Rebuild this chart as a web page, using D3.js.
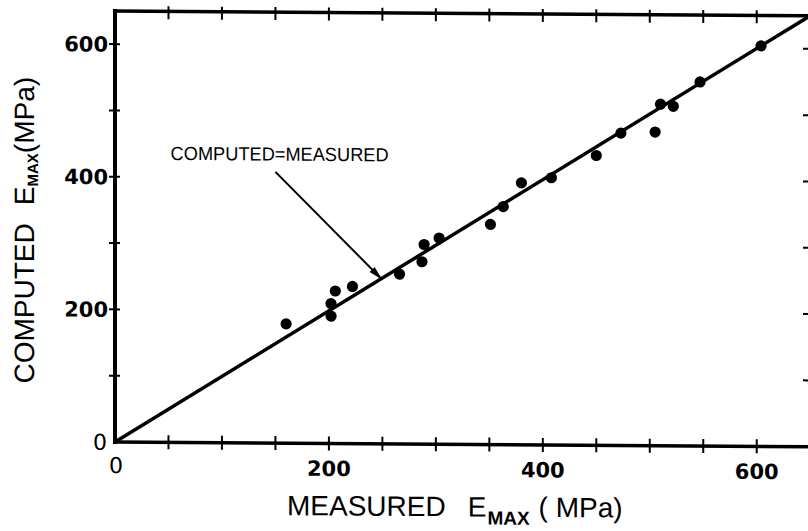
<!DOCTYPE html>
<html>
<head>
<meta charset="utf-8">
<script src="https://cdn.jsdelivr.net/npm/d3@7"></script>
<style>
  html, body { margin: 0; padding: 0; background: #fff; }
  svg { display: block; }
</style>
</head>
<body>
<svg id="chart" width="808" height="531"></svg>
<script>
// Measured vs. computed maximum modulus, E_MAX (MPa)
const measured = [160, 202, 202, 206, 222, 266, 287, 289, 303, 351, 363, 380, 408, 450, 473, 505, 510, 522, 547, 604];
const computed = [180, 192, 211, 230, 237, 256, 275, 301, 311, 332, 359, 395, 403, 437, 471, 473, 515, 512, 549, 604];

// Axis ticks and labels
const xTicks = [50, 100, 150, 200, 250, 300, 350, 400, 450, 500, 550, 600];
const yTicks = [100, 200, 300, 400, 500, 600];
const xLabels = [200, 400, 600];
const yLabels = [200, 400, 600];
const xDomain = [0, 647];
const yDomain = [0, 650];

// Equality line and its annotation (data units)
const equalityLine = [0, 650];
const annotationText = "COMPUTED=MEASURED";
const leaderStart = [150, 409];
const leaderTip = 249;        // point on the equality line
const annotationAnchor = [52, 426];

const svg = d3.select("#chart");

const x = d3.scaleLinear().domain(xDomain).range([115, 807]);
const y = d3.scaleLinear().domain(yDomain).range([442, 11]);

// the whole figure leans slightly, dropping toward the right
const k = 0.0068;
const g = svg.append("g")
  .attr("transform", `matrix(1,${k},0,1,0,${-k * x(0)})`);

const sans = "'Liberation Sans', Arial, sans-serif";
const digits = "'DejaVu Sans', Verdana, sans-serif";

// frame: left, bottom, top
g.append("line").attr("x1", x(0)).attr("x2", x(0)).attr("y1", y(yDomain[1]) - 2).attr("y2", y(0) + 2)
  .attr("stroke", "#000").attr("stroke-width", 4);
g.append("line").attr("x1", x(0)).attr("x2", x(xDomain[1]) + 4).attr("y1", y(0)).attr("y2", y(0))
  .attr("stroke", "#000").attr("stroke-width", 3.5);
g.append("line").attr("x1", x(0) - 2).attr("x2", x(xDomain[1]) + 4).attr("y1", y(yDomain[1])).attr("y2", y(yDomain[1]))
  .attr("stroke", "#000").attr("stroke-width", 3.5);

// crossing ticks on bottom and top
g.append("g").selectAll("line").data(xTicks).join("line")
  .attr("x1", d => x(d)).attr("x2", d => x(d))
  .attr("y1", y(0) - 7).attr("y2", y(0) + 7)
  .attr("stroke", "#000").attr("stroke-width", 2);
g.append("g").selectAll("line").data(xTicks).join("line")
  .attr("x1", d => x(d)).attr("x2", d => x(d))
  .attr("y1", y(yDomain[1]) - 5).attr("y2", y(yDomain[1]) + 8)
  .attr("stroke", "#000").attr("stroke-width", 2);

// left ticks and short inward ticks on the right edge
g.append("g").selectAll("line").data(yTicks).join("line")
  .attr("x1", x(0) - 6).attr("x2", x(0) + 5)
  .attr("y1", d => y(d)).attr("y2", d => y(d))
  .attr("stroke", "#000").attr("stroke-width", 2);
g.append("g").selectAll("line").data(yTicks).join("line")
  .attr("x1", x(xDomain[1]) - 4).attr("x2", x(xDomain[1]) + 1)
  .attr("y1", d => y(d)).attr("y2", d => y(d))
  .attr("stroke", "#000").attr("stroke-width", 2);

// tick labels
g.append("g").selectAll("text").data(xLabels).join("text")
  .attr("x", d => x(d)).attr("y", y(0) + 32.5)
  .attr("text-anchor", "middle")
  .style("font-family", digits).style("font-weight", "bold").style("font-size", "21px")
  .text(d => d);
g.append("g").selectAll("text").data(yLabels).join("text")
  .attr("x", x(0) - 7).attr("y", d => y(d)).attr("dy", "0.36em")
  .attr("text-anchor", "end")
  .style("font-family", digits).style("font-weight", "bold").style("font-size", "21px")
  .text(d => d);
// origin zeros
g.append("text").attr("x", x(0) - 8).attr("y", y(0)).attr("dy", "0.36em")
  .attr("text-anchor", "end")
  .style("font-family", digits).style("font-size", "22px").text("0");
g.append("text").attr("x", x(0) + 1).attr("y", y(0) + 31)
  .attr("text-anchor", "middle")
  .style("font-family", digits).style("font-size", "22px").text("0");

// equality line
g.append("line")
  .attr("x1", x(equalityLine[0])).attr("y1", y(equalityLine[0]))
  .attr("x2", x(equalityLine[1])).attr("y2", y(equalityLine[1]))
  .attr("stroke", "#000").attr("stroke-width", 3.5);

// data points
g.append("g").selectAll("circle").data(measured.map((m, i) => [m, computed[i]])).join("circle")
  .attr("cx", d => x(d[0])).attr("cy", d => y(d[1])).attr("r", 5.6)
  .attr("fill", "#000");

// annotation with leader arrow
svg.append("defs").append("marker")
  .attr("id", "head").attr("viewBox", "0 -5 14 10")
  .attr("refX", 13).attr("refY", 0)
  .attr("markerUnits", "userSpaceOnUse")
  .attr("markerWidth", 14).attr("markerHeight", 10)
  .attr("orient", "auto")
  .append("path").attr("d", "M0,-3.6L14,0L0,3.6Z").attr("fill", "#000");

g.append("line")
  .attr("x1", x(leaderStart[0])).attr("y1", y(leaderStart[1]))
  .attr("x2", x(leaderTip)).attr("y2", y(leaderTip))
  .attr("stroke", "#000").attr("stroke-width", 2)
  .attr("marker-end", "url(#head)");

g.append("text")
  .attr("x", x(annotationAnchor[0])).attr("y", y(annotationAnchor[1]))
  .attr("textLength", 218).attr("lengthAdjust", "spacingAndGlyphs")
  .style("font-family", sans).style("font-size", "19px")
  .text(annotationText);

// x-axis title
const xt = g.append("text")
  .attr("x", 287).attr("y", 514)
  .style("font-family", sans).style("font-size", "28px");
xt.append("tspan").text("MEASURED");
xt.append("tspan").attr("dx", 22).text("E");
xt.append("tspan").attr("dx", 1).attr("dy", 8).style("font-size", "19px").style("font-weight", "bold").text("MAX");
xt.append("tspan").attr("dx", 9).attr("dy", -8).text("( MPa)");

// y-axis title
const yt = g.append("text")
  .attr("transform", "translate(34,384) rotate(-90)")
  .style("font-family", sans).style("font-size", "28px");
yt.append("tspan").text("COMPUTED");
yt.append("tspan").attr("dx", 18).text("E");
yt.append("tspan").attr("dx", 0).attr("dy", 4).style("font-size", "15px").style("font-weight", "bold").text("MAX");
yt.append("tspan").attr("dy", -4).text("(MPa)");
</script>
</body>
</html>
